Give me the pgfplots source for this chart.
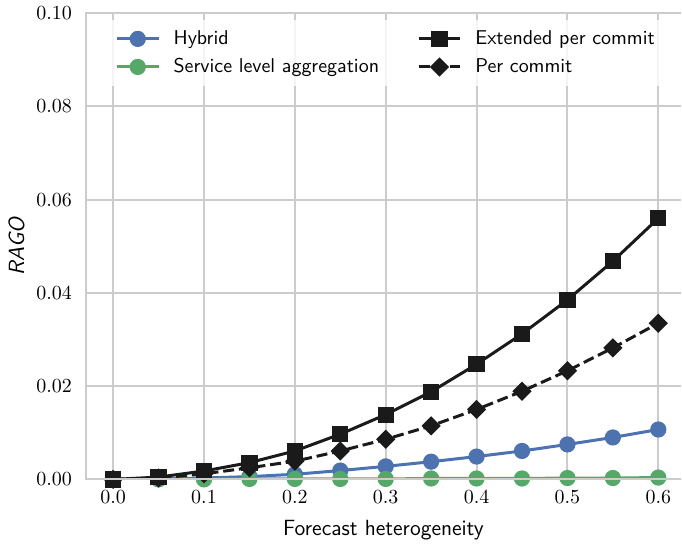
\documentclass[border=0pt]{standalone}
\usepackage{pgfplots}
\pgfplotsset{compat=1.18}
\definecolor{sbblue}{HTML}{4C72B0}
\definecolor{sbgreen}{HTML}{55A868}
\definecolor{blk}{HTML}{1A1A1A}
\definecolor{gridc}{HTML}{CCCCCC}
\begin{document}
\begin{tikzpicture}
\begin{axis}[
  scale only axis, width=298pt, height=233.5pt,
  xmin=-0.03, xmax=0.625, ymin=0, ymax=0.1,
  xtick={0,0.1,0.2,0.3,0.4,0.5,0.6},
  ytick={0,0.02,0.04,0.06,0.08,0.1},
  xticklabel style={/pgf/number format/.cd,fixed,fixed zerofill,precision=1},
  yticklabel style={/pgf/number format/.cd,fixed,fixed zerofill,precision=2},
  scaled y ticks=false,
  major tick length=0pt,
  yticklabel shift=3.5pt, xticklabel shift=2pt,
  tick label style={font=\fontsize{10}{12}\selectfont},
  grid=major, major grid style={gridc, line width=1pt},
  axis line style={draw=none},
  xlabel={\sffamily Forecast heterogeneity},
  ylabel={\sffamily\itshape RAGO},
  label style={font=\fontsize{11}{13}\selectfont},
  xlabel style={yshift=-1.5pt},
  ylabel style={yshift=-1pt},
  legend columns=2, transpose legend,
  legend cell align=left,
  legend style={at={(0.032,0.985)}, anchor=north west, draw=none,
    fill=white, fill opacity=0.8, text opacity=1,
    font=\sffamily\fontsize{10}{12}\selectfont,
    inner xsep=5pt, inner ysep=3pt,
    row sep=1.5pt,
    /tikz/every odd column/.append style={column sep=4.7pt},
    /tikz/every even column/.append style={column sep=17pt}},
  legend image post style={fill opacity=1, draw opacity=1},
  legend image code/.code={\draw[mark repeat=2,mark phase=2,#1] plot coordinates {(0pt,0pt)(10.5pt,0pt)(21pt,0pt)};},
  every axis plot/.append style={line width=1.5pt},
]
\addplot[sbblue, mark=*, mark size=3.3pt, mark options={solid}] coordinates {
(0,0) (0.05,0.0001) (0.1,0.0003) (0.15,0.0006) (0.2,0.0011) (0.25,0.0019) (0.3,0.0028) (0.35,0.0038) (0.4,0.0049) (0.45,0.0061) (0.5,0.0075) (0.55,0.0090) (0.6,0.0107)};
\addlegendentry{Hybrid}
\addplot[sbgreen, mark=*, mark size=3.3pt, mark options={solid}] coordinates {
(0,0) (0.05,0.0000) (0.1,0.0000) (0.15,0.0001) (0.2,0.0001) (0.25,0.0001) (0.3,0.0001) (0.35,0.0002) (0.4,0.0002) (0.45,0.0002) (0.5,0.0003) (0.55,0.0003) (0.6,0.0004)};
\addlegendentry{Service level aggregation}
\addplot[blk, mark=square*, mark size=3.3pt, mark options={solid}] coordinates {
(0,0) (0.05,0.0005) (0.1,0.0018) (0.15,0.0036) (0.2,0.0061) (0.25,0.0097) (0.3,0.0139) (0.35,0.0188) (0.4,0.0247) (0.45,0.0312) (0.5,0.0385) (0.55,0.0468) (0.6,0.0560)};
\addlegendentry{Extended per commit}
\addplot[blk, dash pattern=on 5.5pt off 2.4pt, mark=square*, mark size=2.65pt, mark options={solid, rotate=45}] coordinates {
(0,0) (0.05,0.0003) (0.1,0.0012) (0.15,0.0025) (0.2,0.0039) (0.25,0.0061) (0.3,0.0086) (0.35,0.0115) (0.4,0.0150) (0.45,0.0189) (0.5,0.0233) (0.55,0.0282) (0.6,0.0335)};
\addlegendentry{Per commit}
\end{axis}
\draw[gridc, line width=1pt] (current axis.south east) -- (current axis.south west) -- (current axis.north west) -- (current axis.north east);
\path ([yshift=6.5pt]current axis.north west) ([yshift=-31.5pt,xshift=-43pt]current axis.south west);
\end{tikzpicture}
\end{document}
